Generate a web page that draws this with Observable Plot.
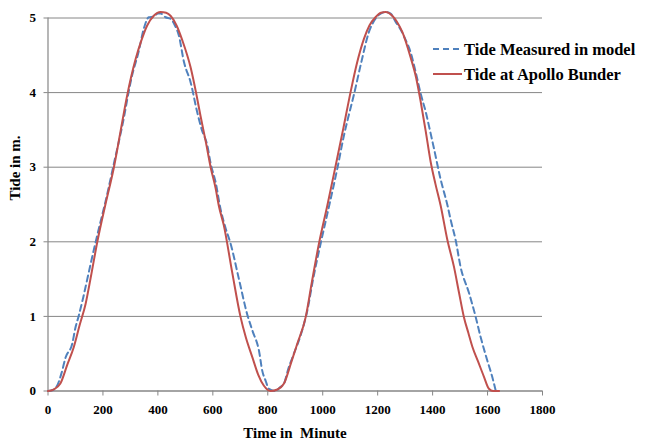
<!DOCTYPE html>
<html>
<head>
<meta charset="utf-8">
<script src="https://cdn.jsdelivr.net/npm/d3@7"></script>
<script src="https://cdn.jsdelivr.net/npm/@observablehq/plot@0.6"></script>
<style>
  html, body { margin: 0; padding: 0; background: #fff; }
  #chart { width: 646px; height: 444px; }
</style>
</head>
<body>
<div id="chart"></div>
<script>
// Tide at Apollo Bunder (red, solid)
const apolloTime = [0,20,45,70,94,115,137,158,179,209,240,265,288,319,340,361,385,410,430,446,468,489,519,540,555,575,592,610,622,640,670,701,720,744,765,786,810,835,859,885,907,938,960,986,1017,1047,1075,1101,1125,1150,1170,1192,1212,1229,1253,1270,1290,1320,1340,1357,1375,1393,1410,1429,1454,1478,1496,1514,1530,1545,1565,1587,1605,1620,1642];
const apolloTide = [0,0.02,0.10,0.35,0.59,0.88,1.17,1.57,1.99,2.50,3.00,3.50,3.96,4.45,4.70,4.90,5.03,5.08,5.07,5.03,4.90,4.70,4.34,3.98,3.69,3.33,3.00,2.72,2.48,2.22,1.60,0.99,0.72,0.45,0.22,0.07,0.00,0.02,0.10,0.38,0.63,0.99,1.45,1.97,2.49,3.02,3.52,4.00,4.40,4.72,4.90,5.01,5.07,5.08,5.03,4.95,4.81,4.47,4.20,3.87,3.48,3.07,2.78,2.49,2.02,1.66,1.32,0.99,0.78,0.59,0.40,0.19,0.03,0.00,0.00];

// Tide measured in model (blue, dashed)
const modelTime = [0,15,33,50,64,88,100,112,128,143,158,173,190,210,240,270,306,330,349,367,385,400,410,428,446,462,476,495,519,543,560,580,592,610,628,645,665,695,725,745,768,780,792,804,828,845,859,875,895,920,944,965,992,1022,1053,1077,1095,1114,1140,1168,1190,1211,1230,1247,1265,1283,1300,1320,1340,1357,1375,1390,1405,1429,1454,1466,1484,1502,1532,1557,1575,1599,1617,1630];
const modelTide = [0,0.01,0.07,0.25,0.45,0.63,0.85,1.01,1.25,1.50,1.75,1.99,2.25,2.55,3.05,3.55,4.23,4.55,4.86,5.01,5.02,5.06,5.06,5.01,4.99,4.90,4.77,4.41,4.14,3.74,3.50,3.29,3.05,2.80,2.44,2.20,1.97,1.50,1.03,0.80,0.54,0.27,0.14,0.03,0.00,0.05,0.10,0.30,0.50,0.75,1.08,1.50,1.97,2.46,2.98,3.42,3.70,3.98,4.40,4.81,4.98,5.06,5.08,5.06,4.95,4.85,4.72,4.54,4.25,3.98,3.74,3.50,3.25,2.84,2.49,2.29,2.02,1.66,1.32,0.99,0.72,0.41,0.19,0.00];

const xTicks = [0,200,400,600,800,1000,1200,1400,1600,1800];
const yTicks = [0,1,2,3,4,5];
const gridLevels = [1,2,3,4,5];
const seriesNames = ["Tide Measured in model", "Tide at Apollo Bunder"];
const xTitle = "Time in  Minute";
const yTitle = "Tide in m.";

const apollo = apolloTime.map((t, i) => ({t, v: apolloTide[i]}));
const model = modelTime.map((t, i) => ({t, v: modelTide[i]}));

const FONT = "'Liberation Serif', 'Times New Roman', serif";
const BLUE = "#4F81BD", RED = "#C0504D", GRID = "#868686";

const plot = Plot.plot({
  width: 646,
  height: 444,
  marginLeft: 47.5,
  marginRight: 104,
  marginTop: 17.5,
  marginBottom: 53.5,
  style: {fontFamily: FONT, background: "#fff", overflow: "visible"},
  x: {domain: [0, 1800]},
  y: {domain: [0, 5]},
  marks: [
    Plot.ruleY(gridLevels, {stroke: GRID, strokeWidth: 1}),
    Plot.ruleX([0], {stroke: GRID, strokeWidth: 1.2}),
    Plot.ruleY([0], {stroke: GRID, strokeWidth: 1.5}),
    Plot.axisY({ticks: yTicks, tickFormat: d => String(d), tickSize: 4, tickPadding: 8, stroke: GRID, fill: "black",
                fontSize: 13, fontWeight: "bold", fontFamily: FONT, label: null}),
    Plot.axisX({ticks: xTicks, tickFormat: d => String(d), tickSize: 5, tickPadding: 9, stroke: GRID, fill: "black",
                fontSize: 13, fontWeight: "bold", fontFamily: FONT, label: null}),
    Plot.line(model, {x: "t", y: "v", stroke: BLUE, strokeWidth: 2, strokeDasharray: "6,4", curve: "monotone-x"}),
    Plot.line(apollo, {x: "t", y: "v", stroke: RED, strokeWidth: 2, curve: "monotone-x"})
  ]
});

document.getElementById("chart").appendChild(plot);

const svg = d3.select(plot);
// axis titles
svg.append("text")
  .attr("x", 295).attr("y", 438)
  .attr("text-anchor", "middle")
  .style("white-space", "pre")
  .attr("font-family", FONT).attr("font-weight", "bold").attr("font-size", 15)
  .attr("fill", "black")
  .text(xTitle);
svg.append("text")
  .attr("transform", "translate(20,168) rotate(-90)")
  .attr("text-anchor", "middle")
  .attr("font-family", FONT).attr("font-weight", "bold").attr("font-size", 15)
  .attr("fill", "black")
  .text(yTitle);

// legend
const legend = svg.append("g");
const legendStyles = [{stroke: BLUE, dash: "6,4"}, {stroke: RED, dash: null}];
seriesNames.forEach((name, i) => {
  const y = 49 + i * 25;
  legend.append("line")
    .attr("x1", 433).attr("x2", 462).attr("y1", y).attr("y2", y)
    .attr("stroke", legendStyles[i].stroke).attr("stroke-width", 2)
    .attr("stroke-dasharray", legendStyles[i].dash);
  legend.append("text")
    .attr("x", 464).attr("y", y).attr("dy", "0.35em")
    .attr("text-anchor", "start")
    .attr("font-family", FONT).attr("font-weight", "bold").attr("font-size", 16.5)
    .attr("fill", "black")
    .text(name);
});
</script>
</body>
</html>
